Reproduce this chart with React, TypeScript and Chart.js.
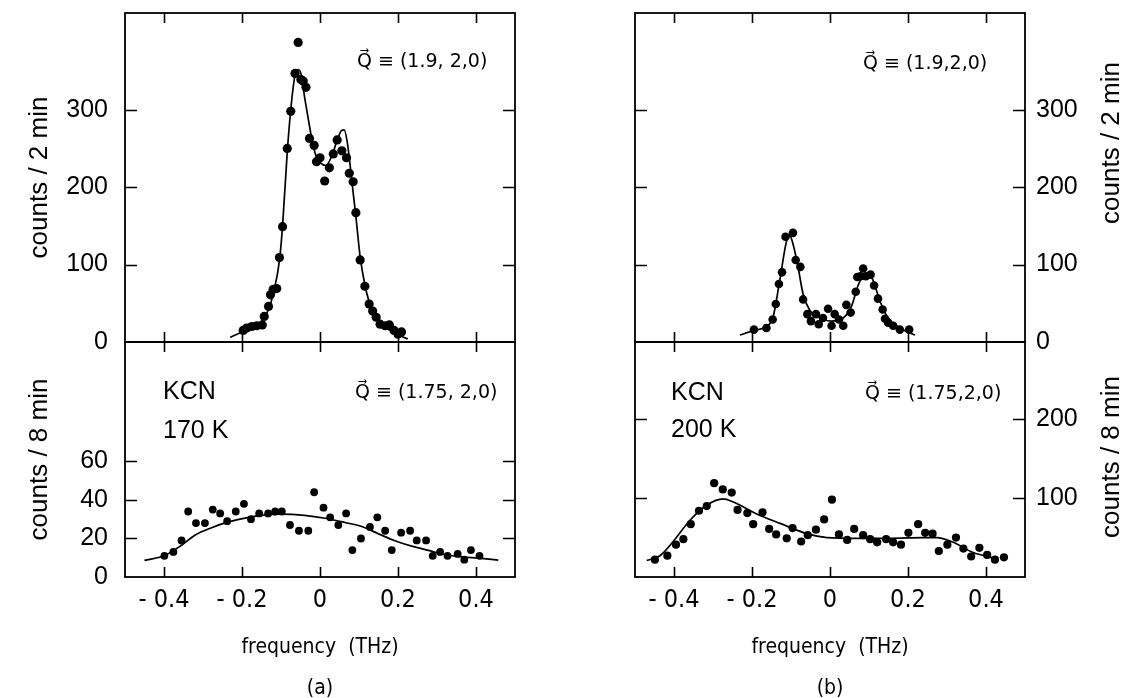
import React, { useEffect, useRef } from 'react';
import { Chart, registerables } from 'chart.js';

Chart.register(...registerables);

const CANVAS_W = 1143;
const CANVAS_H = 720;

// frequency axis (THz)
const X_TICKS = [-0.4, -0.2, 0, 0.2, 0.4];
const X_TICK_LABELS = ['- 0.4', '- 0.2', '0', '0.2', '0.4'];

// count axes
const TOP_Y_TICKS = [0, 100, 200, 300];
const TOP_Y_MARKS = [100, 200, 300];
const BL_Y_TICKS = [0, 20, 40, 60];
const BL_Y_MARKS = [20, 40, 60];
const BR_Y_TICKS = [100, 200];
const BR_Y_MARKS = [100, 200];

// (a) upper: Q = (1.9,2,0), counts / 2 min
const TL_FREQ = [-0.197, -0.188, -0.175, -0.162, -0.148, -0.143, -0.132, -0.127, -0.12, -0.111, -0.104, -0.096, -0.084, -0.075, -0.064, -0.056, -0.049, -0.043, -0.036, -0.027, -0.015, -0.009, 0.0, 0.012, 0.024, 0.034, 0.044, 0.056, 0.068, 0.075, 0.085, 0.092, 0.103, 0.115, 0.126, 0.135, 0.144, 0.154, 0.167, 0.178, 0.19, 0.2, 0.209];
const TL_COUNTS = [15, 18, 20, 21, 22, 33, 46, 61, 68, 69, 109, 149, 250, 298, 347, 387, 339, 337, 329, 263, 254, 233, 238, 208, 225, 243, 261, 247, 238, 218, 207, 167, 106, 72, 49, 40, 32, 23, 21, 22, 15, 10, 13];
const TL_FIT_FREQ = [-0.23, -0.2, -0.17, -0.15, -0.132, -0.12, -0.104, -0.096, -0.084, -0.075, -0.064, -0.056, -0.048, -0.04, -0.03, -0.02, -0.01, 0, 0.015, 0.03, 0.045, 0.055, 0.062, 0.07, 0.078, 0.085, 0.092, 0.103, 0.115, 0.126, 0.135, 0.145, 0.155, 0.17, 0.19, 0.21, 0.225];
const TL_FIT_COUNTS = [6, 13, 19, 26, 42, 62, 105, 150, 245, 300, 345, 352, 345, 318, 288, 260, 240, 232, 228, 240, 262, 273, 274, 258, 225, 193, 162, 110, 74, 52, 40, 31, 24, 18, 12, 7, 4];

// (a) lower: Q = (1.75,2,0), counts / 8 min, KCN 170 K
const BL_FREQ = [-0.399, -0.376, -0.355, -0.338, -0.318, -0.295, -0.275, -0.256, -0.238, -0.216, -0.195, -0.177, -0.156, -0.133, -0.115, -0.098, -0.077, -0.054, -0.03, -0.015, 0.009, 0.026, 0.047, 0.067, 0.083, 0.105, 0.128, 0.147, 0.167, 0.184, 0.208, 0.231, 0.248, 0.272, 0.289, 0.308, 0.327, 0.353, 0.37, 0.387, 0.409];
const BL_COUNTS = [11, 13, 19, 34, 28, 28, 35, 33, 29, 34, 38, 30, 33, 33, 34, 34, 27, 24, 24, 44, 36, 31, 27, 33, 14, 20, 26, 31, 24, 14, 23, 24, 19, 19, 11, 13, 11, 12, 9, 14, 11];
const BL_FIT_FREQ = [-0.45, -0.4, -0.355, -0.32, -0.278, -0.235, -0.192, -0.15, -0.1, -0.04, 0.013, 0.064, 0.107, 0.15, 0.192, 0.235, 0.278, 0.32, 0.363, 0.406, 0.457];
const BL_FIT_COUNTS = [8.6, 11, 16.5, 21.8, 25.6, 28.6, 30.6, 32, 32.6, 32, 30.5, 28.3, 26.2, 22.4, 18.8, 16, 13.8, 11.7, 10.5, 9.8, 8.8];

// (b) upper: Q = (1.9,2,0), counts / 2 min
const TR_FREQ = [-0.195, -0.163, -0.147, -0.139, -0.131, -0.123, -0.114, -0.095, -0.088, -0.076, -0.069, -0.058, -0.049, -0.036, -0.029, -0.018, -0.005, 0.004, 0.012, 0.023, 0.034, 0.042, 0.053, 0.066, 0.07, 0.078, 0.085, 0.092, 0.104, 0.113, 0.123, 0.135, 0.141, 0.149, 0.162, 0.179, 0.203];
const TR_COUNTS = [16, 18, 29, 49, 75, 90, 136, 141, 106, 97, 55, 36, 27, 36, 23, 31, 43, 21, 36, 29, 21, 48, 38, 65, 84, 85, 95, 85, 87, 73, 56, 42, 30, 25, 21, 16, 16];
const TR_FIT_FREQ = [-0.231, -0.195, -0.163, -0.146, -0.129, -0.111, -0.103, -0.095, -0.082, -0.069, -0.052, -0.026, 0.004, 0.034, 0.055, 0.072, 0.087, 0.1, 0.111, 0.128, 0.149, 0.179, 0.218];
const TR_FIT_COUNTS = [9, 15, 20, 32, 79, 131, 137, 127, 97, 62, 41, 31, 27, 31, 46, 73, 87, 88, 79, 53, 31, 18, 9];

// (b) lower: Q = (1.75,2,0), counts / 8 min, KCN 200 K
const BR_FREQ = [-0.449, -0.417, -0.395, -0.376, -0.357, -0.336, -0.316, -0.297, -0.275, -0.252, -0.237, -0.212, -0.197, -0.173, -0.156, -0.138, -0.111, -0.096, -0.074, -0.057, -0.036, -0.015, 0.005, 0.023, 0.044, 0.062, 0.085, 0.103, 0.121, 0.144, 0.162, 0.182, 0.201, 0.226, 0.244, 0.263, 0.279, 0.301, 0.323, 0.342, 0.362, 0.383, 0.403, 0.423, 0.446];
const BR_COUNTS = [22, 27, 41, 48, 67, 84, 90, 119, 111, 107, 85, 81, 67, 82, 61, 54, 49, 62, 45, 53, 60, 73, 98, 54, 47, 61, 53, 48, 44, 48, 44, 41, 56, 67, 56, 55, 33, 41, 50, 36, 26, 37, 28, 22, 25];
const BR_FIT_FREQ = [-0.47, -0.436, -0.402, -0.359, -0.316, -0.274, -0.248, -0.188, -0.128, -0.06, -0.008, 0.068, 0.154, 0.239, 0.274, 0.316, 0.367, 0.419];
const BR_FIT_COUNTS = [21, 27, 45, 72, 91, 99, 95, 80, 68, 55, 50, 49, 49, 50, 50, 44, 31, 24];

const SANS = "'Liberation Sans', Arial, sans-serif";
const NARROW = "'DejaVu Sans Condensed', 'Liberation Sans', sans-serif";
const DEJAVU = "'DejaVu Sans', sans-serif";

type TextItem = { text: string; dx: number; dy: number; size: number; family: string };
type Spec = {
  freq: number[]; counts: number[]; fitFreq: number[]; fitCounts: number[];
  yMax: number; yTicks: number[]; yMarks: number[];
  side: 'left' | 'right'; showX: boolean;
  area: { left: number; top: number; right: number; bottom: number };
  yTitle: string; xTitle: string[]; radius: number;
  texts: TextItem[];
  sideTitle?: { text: string; dx: number; dy: number };
};

const zip = (xs: number[], ys: number[]) => xs.map((x, i) => ({ x, y: ys[i] }));

const decorPlugin = {
  id: 'decor',
  afterDraw(chart: any, _args: any, opts: any) {
    const { ctx, chartArea: a, scales } = chart;
    ctx.save();
    ctx.strokeStyle = '#000';
    ctx.fillStyle = '#000';
    ctx.lineWidth = 1.8;
    ctx.strokeRect(a.left, a.top, a.right - a.left, a.bottom - a.top);
    ctx.lineWidth = 1.6;
    ctx.beginPath();
    for (const v of X_TICKS) {
      const px = Math.round(scales.x.getPixelForValue(v)) + 0.5;
      ctx.moveTo(px, a.top); ctx.lineTo(px, a.top + 10);
      ctx.moveTo(px, a.bottom); ctx.lineTo(px, a.bottom - 10);
    }
    for (const v of opts.yMarks) {
      const py = Math.round(scales.y.getPixelForValue(v)) + 0.5;
      ctx.moveTo(a.left, py); ctx.lineTo(a.left + 12, py);
      ctx.moveTo(a.right, py); ctx.lineTo(a.right - 12, py);
    }
    ctx.stroke();
    ctx.textBaseline = 'middle';
    ctx.textAlign = 'left';
    for (const t of opts.texts) {
      ctx.font = `${t.size}px ${t.family}`;
      ctx.fillText(t.text, a.left + t.dx, a.top + t.dy);
    }
    if (opts.sideTitle) {
      const s = opts.sideTitle;
      ctx.translate(a.right + s.dx, a.top + s.dy);
      ctx.rotate(-Math.PI / 2);
      ctx.textAlign = 'center';
      ctx.font = `26px ${SANS}`;
      ctx.fillText(s.text, 0, 0);
    }
    ctx.restore();
  },
};

function buildConfig(p: Spec): any {
  const a = p.area;
  const left = p.side === 'left';
  return {
    type: 'scatter',
    data: {
      datasets: [
        {
          label: 'measured',
          data: zip(p.freq, p.counts),
          showLine: false,
          pointRadius: p.radius,
          pointHoverRadius: p.radius,
          backgroundColor: '#000',
          borderColor: '#000',
          borderWidth: 0,
        },
        {
          label: 'fit',
          data: zip(p.fitFreq, p.fitCounts),
          showLine: true,
          pointRadius: 0,
          pointHoverRadius: 0,
          borderColor: '#000',
          borderWidth: 1.7,
          cubicInterpolationMode: 'monotone',
          fill: false,
        },
      ],
    },
    options: {
      responsive: false,
      animation: false,
      devicePixelRatio: 1,
      events: [],
      layout: {
        autoPadding: false,
        padding: {
          left: left ? 0 : a.left,
          right: left ? CANVAS_W - a.right : 0,
          top: a.top,
          bottom: p.showX ? 0 : CANVAS_H - a.bottom,
        },
      },
      plugins: {
        legend: { display: false },
        tooltip: { enabled: false },
        decor: { yMarks: p.yMarks, texts: p.texts, sideTitle: p.sideTitle || null },
      },
      scales: {
        x: {
          type: 'linear',
          position: 'bottom',
          min: -0.5,
          max: 0.5,
          grid: { display: false, drawTicks: false },
          border: { display: false },
          afterBuildTicks: (s: any) => { s.ticks = X_TICKS.map((v) => ({ value: v })); },
          afterFit: (s: any) => {
            s.height = p.showX ? CANVAS_H - a.bottom : 0;
            s.paddingLeft = 0; s.paddingRight = 0; s.paddingTop = 0; s.paddingBottom = 0;
          },
          ticks: {
            display: p.showX,
            autoSkip: false,
            maxRotation: 0,
            minRotation: 0,
            padding: 8,
            color: '#000',
            font: { family: NARROW, size: 25, lineHeight: 1.2 },
            callback: (_v: any, i: number) => X_TICK_LABELS[i],
          },
          title: {
            display: p.showX,
            text: p.xTitle,
            color: '#000',
            font: { family: NARROW, size: 21, lineHeight: '41px' },
            padding: { top: 0, bottom: 11 },
          },
        },
        y: {
          type: 'linear',
          position: p.side,
          min: 0,
          max: p.yMax,
          grid: { display: false, drawTicks: false },
          border: { display: false },
          afterBuildTicks: (s: any) => { s.ticks = p.yTicks.map((v) => ({ value: v })); },
          afterFit: (s: any) => {
            s.width = left ? a.left : CANVAS_W - a.right;
            s.paddingLeft = 0; s.paddingRight = 0; s.paddingTop = 0; s.paddingBottom = 0;
          },
          ticks: {
            padding: left ? 17 : 11,
            color: '#000',
            font: { family: SANS, size: 25 },
            callback: (v: any) => String(v),
          },
          title: {
            display: left,
            text: p.yTitle,
            color: '#000',
            font: { family: SANS, size: 26, lineHeight: 1.2 },
            padding: { top: 24, bottom: 0 },
          },
        },
      },
    },
    plugins: [decorPlugin],
  };
}

const PANELS: Spec[] = [
  {
    freq: TL_FREQ, counts: TL_COUNTS, fitFreq: TL_FIT_FREQ, fitCounts: TL_FIT_COUNTS,
    yMax: 425, yTicks: TOP_Y_TICKS, yMarks: TOP_Y_MARKS, side: 'left', showX: false,
    area: { left: 125, top: 13, right: 515, bottom: 342 },
    yTitle: 'counts / 2 min', xTitle: [], radius: 4.6,
    texts: [{ text: 'Q\u20D7 \u2261 (1.9, 2,0)', dx: 232, dy: 49, size: 19, family: DEJAVU }],
  },
  {
    freq: BL_FREQ, counts: BL_COUNTS, fitFreq: BL_FIT_FREQ, fitCounts: BL_FIT_COUNTS,
    yMax: 122, yTicks: BL_Y_TICKS, yMarks: BL_Y_MARKS, side: 'left', showX: true,
    area: { left: 125, top: 342, right: 515, bottom: 577 },
    yTitle: 'counts / 8 min', xTitle: ['frequency  (THz)', '(a)'], radius: 3.9,
    texts: [
      { text: 'KCN', dx: 38, dy: 50, size: 25, family: SANS },
      { text: '170 K', dx: 38, dy: 89, size: 25, family: SANS },
      { text: 'Q\u20D7 \u2261 (1.75, 2,0)', dx: 230, dy: 51, size: 19, family: DEJAVU },
    ],
  },
  {
    freq: TR_FREQ, counts: TR_COUNTS, fitFreq: TR_FIT_FREQ, fitCounts: TR_FIT_COUNTS,
    yMax: 425, yTicks: TOP_Y_TICKS, yMarks: TOP_Y_MARKS, side: 'right', showX: false,
    area: { left: 635, top: 13, right: 1025, bottom: 342 },
    yTitle: 'counts / 2 min', xTitle: [], radius: 4.3,
    texts: [{ text: 'Q\u20D7 \u2261 (1.9,2,0)', dx: 228, dy: 51, size: 19, family: DEJAVU }],
    sideTitle: { text: 'counts / 2 min', dx: 87, dy: 130 },
  },
  {
    freq: BR_FREQ, counts: BR_COUNTS, fitFreq: BR_FIT_FREQ, fitCounts: BR_FIT_COUNTS,
    yMax: 298, yTicks: BR_Y_TICKS, yMarks: BR_Y_MARKS, side: 'right', showX: true,
    area: { left: 635, top: 342, right: 1025, bottom: 577 },
    yTitle: 'counts / 8 min', xTitle: ['frequency  (THz)', '(b)'], radius: 4.1,
    texts: [
      { text: 'KCN', dx: 36, dy: 51, size: 25, family: SANS },
      { text: '200 K', dx: 36, dy: 88, size: 25, family: SANS },
      { text: 'Q\u20D7 \u2261 (1.75,2,0)', dx: 230, dy: 52, size: 19, family: DEJAVU },
    ],
    sideTitle: { text: 'counts / 8 min', dx: 87, dy: 115 },
  },
];

function Panel({ spec }: { spec: Spec }) {
  const ref = useRef<HTMLCanvasElement | null>(null);
  useEffect(() => {
    if (!ref.current) return;
    const chart = new Chart(ref.current, buildConfig(spec));
    return () => chart.destroy();
  }, [spec]);
  return (
    <canvas
      ref={ref}
      width={CANVAS_W}
      height={CANVAS_H}
      style={{ position: 'absolute', left: 0, top: 0, width: CANVAS_W, height: CANVAS_H }}
    />
  );
}

export default function App() {
  return (
    <div
      style={{
        position: 'absolute', left: 0, top: 0, width: 1143, height: 698,
        overflow: 'hidden', background: '#fff',
      }}
    >
      {PANELS.map((p, i) => (
        <Panel key={i} spec={p} />
      ))}
    </div>
  );
}
